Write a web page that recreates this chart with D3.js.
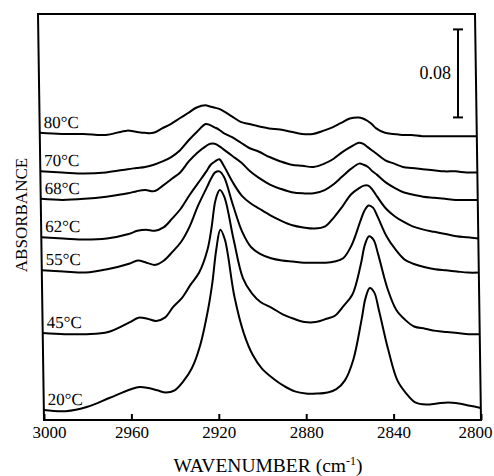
<!DOCTYPE html>
<html>
<head>
<meta charset="utf-8">
<script src="https://cdn.jsdelivr.net/npm/d3@7"></script>
<style>
  body { margin: 0; background: #fff; }
  text { font-family: "Liberation Serif", "Times New Roman", serif; fill: #000; }
</style>
</head>
<body>
<div id="chart"></div>
<script>
// wavenumber grid (cm-1), shared by all spectra
const wavenumbers = [3000, 2990, 2980, 2970, 2960, 2956, 2952, 2948, 2944, 2940,
  2936, 2932, 2928, 2924, 2922, 2920, 2918, 2916, 2912, 2908,
  2904, 2900, 2895, 2890, 2885, 2880, 2875, 2870, 2866, 2862,
  2858, 2854, 2852, 2850, 2848, 2846, 2842, 2838, 2834, 2830,
  2825, 2820, 2815, 2810, 2805, 2800];

// absorbance (stacked, as plotted)
const abs80 = [.261,.260,.260,.259,.263,.262,.261,.261,.265,.269,.274,.279,.284,.286,.285,.284,.283,.281,.276,.271,.269,.267,.265,.264,.262,.260,.260,.263,.266,.270,.274,.275,.274,.272,.269,.265,.261,.260,.259,.259,.258,.258,.258,.258,.258,.258];
const abs70 = [.226,.225,.224,.225,.228,.229,.230,.232,.235,.239,.245,.254,.262,.269,.268,.266,.264,.261,.257,.252,.247,.244,.239,.235,.232,.231,.230,.233,.237,.243,.248,.252,.251,.248,.245,.242,.236,.233,.230,.229,.228,.227,.226,.226,.225,.225];
const abs68 = [.201,.200,.201,.203,.206,.208,.209,.208,.213,.219,.225,.235,.243,.249,.251,.251,.249,.246,.240,.234,.226,.220,.214,.210,.207,.206,.206,.209,.214,.221,.228,.233,.232,.230,.226,.223,.216,.211,.207,.205,.203,.202,.201,.200,.200,.200];
const abs62 = [.166,.165,.164,.165,.169,.172,.173,.172,.175,.183,.192,.204,.215,.226,.232,.235,.237,.231,.216,.204,.197,.192,.186,.181,.177,.175,.174,.176,.184,.194,.205,.211,.213,.213,.209,.203,.192,.185,.180,.176,.173,.171,.169,.167,.166,.165];
const abs55 = [.136,.135,.134,.137,.142,.145,.143,.141,.145,.153,.162,.176,.195,.211,.219,.225,.226,.221,.195,.171,.157,.151,.147,.145,.144,.143,.143,.143,.144,.147,.159,.180,.190,.195,.193,.185,.167,.155,.146,.142,.139,.137,.136,.135,.134,.134];
const abs45 = [.079,.078,.078,.080,.089,.093,.092,.090,.093,.103,.111,.123,.134,.155,.175,.200,.209,.203,.164,.129,.115,.107,.102,.096,.092,.089,.089,.092,.095,.104,.114,.141,.159,.167,.164,.151,.120,.100,.091,.085,.083,.081,.080,.079,.078,.078];
const abs20 = [.009,.008,.012,.020,.028,.030,.029,.027,.025,.027,.035,.047,.068,.102,.125,.155,.173,.164,.112,.079,.059,.047,.038,.031,.026,.024,.024,.025,.028,.036,.055,.091,.111,.120,.116,.100,.064,.036,.024,.016,.014,.015,.016,.015,.013,.011];

const labels = ['80°C', '70°C', '68°C', '62°C', '55°C', '45°C', '20°C'];
const xTicks = [3000, 2960, 2920, 2880, 2840, 2800];
const scaleBarValue = 0.08;

const series = [abs80, abs70, abs68, abs62, abs55, abs45, abs20].map((vals, i) => ({
  label: labels[i],
  points: wavenumbers.map((w, j) => [w, vals[j]])
}));

const width = 494, height = 476;
const svg = d3.select('#chart').append('svg')
  .attr('width', width)
  .attr('height', height);

const x = d3.scaleLinear().domain([3000, 2800]).range([44, 481]);
const y = d3.scaleLinear().domain([0, 0.369]).range([420, 14]);

// the scanned figure leans slightly, so shear the plot box about its bottom edge
const plot = svg.append('g')
  .attr('transform', 'translate(0,420) skewX(0.847) translate(0,-420)');

const line = d3.line()
  .x(d => x(d[0]))
  .y(d => y(d[1]))
  .curve(d3.curveCatmullRom.alpha(0.5));

plot.selectAll('path.spec')
  .data(series)
  .enter()
  .append('path')
  .attr('class', 'spec')
  .attr('d', d => line(d.points))
  .attr('fill', 'none')
  .attr('stroke', '#000')
  .attr('stroke-width', 2)
  .attr('stroke-linejoin', 'round');

plot.selectAll('text.temp')
  .data(series)
  .enter()
  .append('text')
  .attr('class', 'temp')
  .attr('x', x(3000) + 4)
  .attr('y', d => y(d.points[0][1]) - 5)
  .attr('font-size', 17)
  .text(d => d.label);

// frame
plot.append('rect')
  .attr('x', x(3000))
  .attr('y', y(0.369))
  .attr('width', x(2800) - x(3000))
  .attr('height', y(0) - y(0.369))
  .attr('fill', 'none')
  .attr('stroke', '#000')
  .attr('stroke-width', 2);

// bottom axis, ticks pointing inward
const xAxis = svg.append('g')
  .attr('transform', 'translate(0,420)')
  .call(d3.axisBottom(x).tickValues(xTicks).tickSize(-6).tickPadding(6).tickFormat(d3.format('d')));
xAxis.select('.domain').remove();
xAxis.selectAll('line').attr('stroke', '#000').attr('stroke-width', 2);
xAxis.selectAll('text')
  .attr('font-size', 17)
  .attr('font-family', '"Liberation Serif", serif')
  .attr('dx', d => d === 3000 ? 5 : d === 2800 ? -6 : 0);

// 0.08 absorbance scale bar
const barTop = 0.355, barBottom = barTop - scaleBarValue, barX = 458;
const bar = svg.append('g').attr('stroke', '#000').attr('stroke-width', 2);
bar.append('line').attr('x1', barX).attr('x2', barX).attr('y1', y(barTop)).attr('y2', y(barBottom));
bar.append('line').attr('x1', barX - 5).attr('x2', barX + 5).attr('y1', y(barTop)).attr('y2', y(barTop));
bar.append('line').attr('x1', barX - 5).attr('x2', barX + 5).attr('y1', y(barBottom)).attr('y2', y(barBottom));
svg.append('text')
  .attr('x', barX - 7)
  .attr('y', (y(barTop) + y(barBottom)) / 2 + 6)
  .attr('text-anchor', 'end')
  .attr('font-size', 18)
  .text('0.08');

// axis titles
const xTitle = svg.append('text')
  .attr('x', 268)
  .attr('y', 472)
  .attr('text-anchor', 'middle')
  .attr('font-size', 19.5);
xTitle.append('tspan').text('WAVENUMBER (cm');
xTitle.append('tspan').attr('font-size', 12).attr('dy', -7).text('-1');
xTitle.append('tspan').attr('dy', 7).text(')');

svg.append('text')
  .attr('transform', 'translate(27,215) rotate(-90)')
  .attr('text-anchor', 'middle')
  .attr('font-size', 17)
  .text('ABSORBANCE');
</script>
</body>
</html>
